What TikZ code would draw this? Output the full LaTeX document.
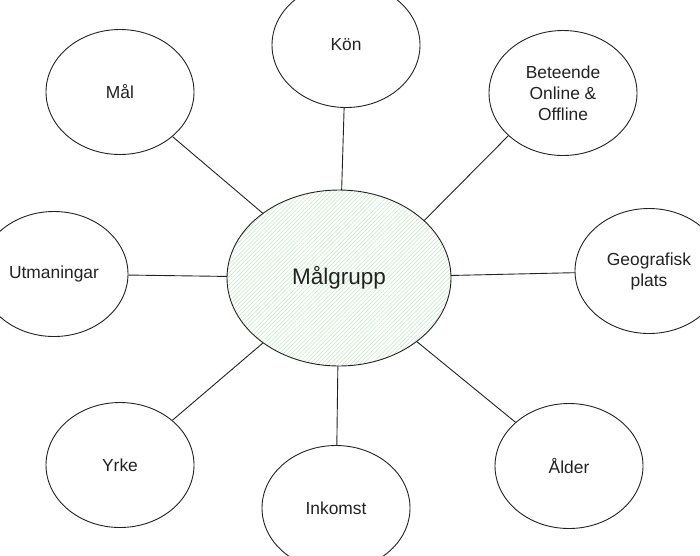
\documentclass[tikz,border=0pt]{standalone}
\usepackage{fontspec}
\setmainfont{Liberation Sans}
\usepackage{tikz}
\usetikzlibrary{shapes.geometric}
\usetikzlibrary{patterns.meta}
\definecolor{hatchgreen}{HTML}{BDE8C2}
\definecolor{inkgray}{HTML}{222222}

\begin{document}
\begin{tikzpicture}[x=1pt,y=-1pt,
    bubble/.style = {ellipse, draw=inkgray, line width=0.9pt, inner sep=0pt,
        minimum width=148pt, minimum height=125pt, align=center,
        text=inkgray, font=\fontsize{17.4}{21}\selectfont},
    hub/.style = {bubble, minimum width=224pt, minimum height=176pt,
        pattern={Lines[angle=45,distance=2.9pt,line width=0.5pt]},
        pattern color=hatchgreen, font=\fontsize{22.5}{27}\selectfont},
    spoke/.style = {draw=inkgray, line width=0.9pt}]
    \useasboundingbox (0,0) rectangle (700,555);
    \node [hub] (malgrupp) at (339,278) {Målgrupp};
    \node [bubble] (kon) at (346,45) {Kön};
    \node [bubble] (mal) at (120,92) {Mål};
    \node [bubble] (beteende) at (563,93) {Beteende\\Online \&\\Offline};
    \node [bubble] (utmaningar) at (54,274) {Utmaningar};
    \node [bubble] (geografisk) at (649,271) {Geografisk\\plats};
    \node [bubble] (yrke) at (120,465) {Yrke};
    \node [bubble] (inkomst) at (336,508) {Inkomst};
    \node [bubble] (alder) at (569,466) {Ålder};
    \draw [spoke] (malgrupp) -- (kon);
    \draw [spoke] (malgrupp) -- (mal);
    \draw [spoke] (malgrupp.34) -- (beteende.218);
    \draw [spoke] (malgrupp) -- (utmaningar);
    \draw [spoke] (malgrupp) -- (geografisk);
    \draw [spoke] (malgrupp) -- (yrke);
    \draw [spoke] (malgrupp) -- (inkomst);
    \draw [spoke] (malgrupp) -- (alder);
\end{tikzpicture}
\end{document}
